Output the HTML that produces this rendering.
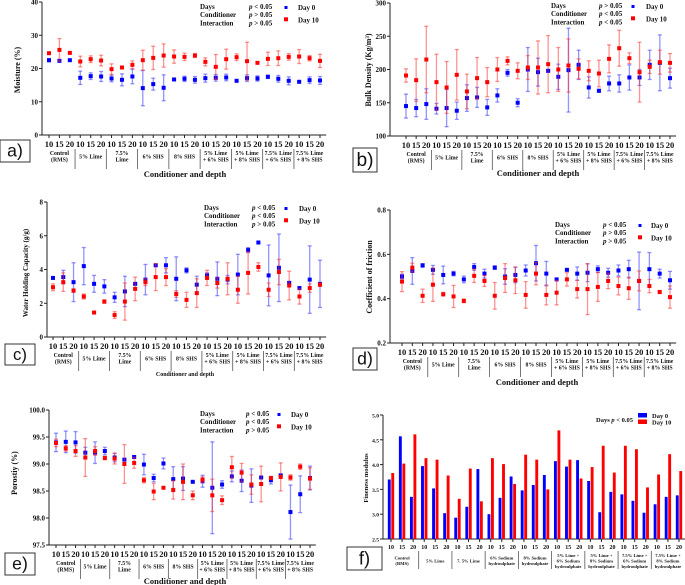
<!DOCTYPE html>
<html><head><meta charset="utf-8"><style>
body{margin:0;background:#fff}
svg{display:block;font-family:"Liberation Serif",serif;font-weight:bold}
</style></head><body>
<svg id="fig" width="685" height="585" viewBox="0 0 685 585" xmlns="http://www.w3.org/2000/svg"></svg>
<script>
const depths=["10","15","20"];
const groupsA=[["Control","(RMS)"],["5% Lime"],["7.5%","Lime"],["6% SHS"],["8% SHS"],["5% Lime","+ 6% SHS"],["5% Lime","+ 8% SHS"],["7.5% Lime","+ 6% SHS"],["7.5% Lime","+ 8% SHS"]];
const groupsF=[["Control","(RMS)"],["5% Lime"],["7. 5% Lime"],["6% Sodium","hydroulphate"],["8% Sodium","hydroulphate"],["5% Lime +","6% Sodium","hydroulphate"],["5% Lime +","8% Sodium","hydroulphate"],["7.5% Lime +","6% Sodium","hydroulphate"],["7.5% Lime +","8% Sodium","hydroulphate"]];
// a) moisture
const moistD0=[22.5,22.3,22.5,17.2,17.7,17.6,17,16.6,17.6,14.1,15.3,14.2,16.7,16.9,16.6,17.1,17.2,17.3,16.3,17.1,17,17.5,16.9,16.3,16,16.5,16.4];
const moistE0=[0.5,0.3,0.3,2,1,1.5,1,1.8,2.2,5.3,1.8,3.9,0.3,0.8,1,1.2,1,1,0.3,1,0.8,0.5,1,1.2,0.2,1,1.2];
const moistD10=[24.6,25.6,24.7,22.1,22.8,22.4,19.8,20.3,21.1,22.5,23.2,23.9,23.6,23.5,23.9,22,20.5,22.8,23.4,22.2,21.7,22.9,23.1,23.5,23.6,23.1,22.3];
const moistE10=[0.3,3.4,0.3,1.6,1,1.6,1.6,0.3,1.2,3,3.5,3.5,2,1.1,0.6,1.2,3.7,3,1,5.7,0.3,2,2.2,1,2.1,0.8,2];
const moistTicks=[0,10,20,30,40];
// b) bulk density
const bdD0=[145,142,148,141,142,138,157,158,143,161,195,150,200,196,198,189,199,207,173,168,179,179,188,188,207,210,187];
const bdE0=[18,13,23,8,28,13,20,15,12,10,5,6,33,21,2,19,63,22,16,2,11,13,19,12,22,42,15];
const bdD10=[191,184,215,181,173,192,167,187,181,200,213,198,203,203,208,200,206,201,198,194,216,232,217,196,204,211,210];
const bdE10=[10,32,50,42,39,38,26,31,22,18,6,12,18,40,43,33,40,15,15,20,21,27,8,45,10,18,14];
const bdTicks=[100,150,200,250,300];
// c) water holding capacity
const whcD0=[3.5,3.55,3.25,4.2,3.15,3.0,2.35,2.7,3.15,3.4,4.25,4.25,3.45,3.95,3.1,3.65,3.45,3.4,3.7,5.15,5.6,3.65,4.1,3.2,2.9,3.4,3.15];
const whcE0=[0.05,0.4,1.15,1.1,0.5,0.4,0.3,0.9,0.05,0.9,0.05,0.45,1.3,0.15,0.5,0.15,1,0.25,1.2,0.15,0.05,1.8,2,0.1,0.05,2,1.4];
const whcD10=[2.95,3.25,2.75,2.4,1.45,2.1,1.3,2.1,2.85,3.25,3.55,3.55,2.55,2.2,2.6,3.5,3.2,3.45,2.8,3.8,4.15,2.8,3.85,3.05,2.4,2.9,3.1];
const whcE10=[0.2,0.55,0.1,0.15,0.05,0.1,0.2,1.1,0.7,0.2,0.8,0.5,0.2,0.45,0.85,0.45,0.3,0.95,0.8,1.25,0.25,0.4,0.75,0.85,0.45,0.25,0.1];
const whcTicks=[0,2,4,6,8];
// d) coefficient of friction
const cofD0=[0.50,0.525,0.55,0.53,0.507,0.513,0.487,0.543,0.513,0.54,0.50,0.507,0.527,0.56,0.513,0.487,0.53,0.513,0.517,0.533,0.517,0.527,0.533,0.48,0.533,0.513,0.483];
const cofE0=[0.01,0.06,0.008,0.02,0.04,0.01,0.015,0.015,0.02,0.008,0.035,0.035,0.025,0.08,0.055,0.003,0.003,0.03,0.04,0.015,0.02,0.025,0.04,0.13,0.075,0.02,0.04];
const cofD10=[0.477,0.54,0.413,0.463,0.42,0.41,0.39,0.503,0.48,0.413,0.493,0.483,0.417,0.513,0.417,0.427,0.487,0.443,0.443,0.453,0.48,0.457,0.447,0.48,0.457,0.43,0.407];
const cofE10=[0.045,0.02,0.03,0.075,0.008,0.05,0.008,0.03,0.025,0.06,0.065,0.06,0.06,0.05,0.045,0.055,0.03,0.04,0.115,0.065,0.035,0.04,0.05,0.045,0.03,0.007,0.05];
const cofTicks=[0.2,0.4,0.6,0.8];
// e) porosity
const porD0=[99.4,99.41,99.4,99.21,99.21,99.24,99.12,99.08,99.13,98.99,98.74,99.01,98.72,98.73,98.67,98.68,98.56,98.62,98.77,98.69,98.6,98.75,98.7,98.79,98.11,98.44,98.74];
const porE0=[0.17,0.2,0.2,0.1,0.2,0.07,0.08,0.01,0.02,0.19,0.07,0.1,0.23,0.22,0.01,0.11,0.85,0.07,0.1,0.2,0.31,0.01,0.07,0.01,0.5,0.34,0.22];
const porD10=[99.39,99.29,99.24,99.12,99.24,99.11,99.1,99.0,99.02,98.7,98.49,98.56,98.52,98.67,98.42,98.71,98.42,98.33,98.94,98.84,98.62,98.63,98.74,98.76,98.75,98.95,98.73];
const porE10=[0.07,0.05,0.1,0.35,0.08,0.03,0.1,0.36,0.1,0.05,0.15,0.02,0.17,0.33,0.08,0.05,0.3,0.08,0.2,0.17,0.18,0.33,0.02,0.26,0.05,0.05,0.2];
const porTicks=[97.5,98.0,98.5,99.0,99.5,100.0];
// f) fineness modulus
const fmD0=[3.7,4.57,3.35,3.97,3.52,3.02,2.93,3.15,3.91,3.0,3.33,3.76,3.48,3.59,3.79,4.07,3.96,4.09,3.67,3.04,3.45,3.4,3.27,3.03,3.2,3.35,3.38];
const fmD10=[3.83,4.02,4.61,4.13,4.1,3.78,3.31,3.92,3.26,4.13,4.01,3.61,4.2,4.1,3.5,4.69,4.1,3.72,3.95,4.38,3.84,4.38,4.31,3.54,3.8,4.21,3.87];
const fmTicks=[2.5,3.0,3.5,4.0,4.5,5.0];

const svg=document.getElementById('fig');
const NS="http://www.w3.org/2000/svg";
function mk(tag,attrs,parent){const e=document.createElementNS(NS,tag);for(const k in attrs)e.setAttribute(k,attrs[k]);(parent||svg).appendChild(e);return e;}
function txt(x,y,s,size,anchor,parent,extra){const t=mk('text',Object.assign({x:x,y:y,'font-size':size,'text-anchor':anchor||'start',fill:'#111'},extra||{}),parent);t.textContent=s;return t;}

function panel(c){
  const g=mk('g',{});
  
  
  const [v0,v1]=c.range;
  const ys=v=>c.yBot+(v-v0)/(v1-v0)*(c.yTop-c.yBot);
  const n=27, step=(c.xLast-c.xFirst)/(n-1);
  const xs=i=>c.xFirst+i*step;
  const ya=mk('line',{x1:c.ax,y1:c.yTop,x2:c.ax,y2:c.yBot,stroke:'#222','stroke-width':1},g);
  
  const xa=mk('line',{x1:c.ax,y1:c.yBot,x2:c.xLast+step*0.6,y2:c.yBot,stroke:'#222','stroke-width':1},g);
  
  c.ticks.forEach(v=>{
    mk('line',{x1:c.ax-3,y1:ys(v),x2:c.ax,y2:ys(v),stroke:'#222'},g);
    const t=txt(c.ax-4,ys(v)+2.5,c.fmt?v.toFixed(c.fmt):String(v),c.tickSize||7,'end',g);
    
  });
  for(let i=0;i<n;i++){
    mk('line',{x1:xs(i),y1:c.yBot,x2:xs(i),y2:c.yBot+3,stroke:'#222'},g);
    const t=txt(xs(i),c.yBot+c.dOff,depths[i%3],c.dSize||8.5,'middle',g,{'font-weight':'bold'});
    
  }
  const groups=c.groups;
  for(let k=0;k<9;k++){
    if(k<8){const sx=(xs(k*3+2)+xs(k*3+3))/2;mk('line',{x1:sx,y1:c.yBot+c.dOff+2,x2:sx,y2:c.yBot+c.dOff+c.sepLen,stroke:'#555','stroke-width':0.8},g);}
    const cx=xs(k*3+1), lines=groups[k];
    const lh=c.gSize+0.8;
    const base=c.yBot+c.dOff+c.gOff+(c.gLines-lines.length)*lh/2;
    lines.forEach((s,j)=>{const t=txt(cx,base+j*lh,s,c.gSize,'middle',g);});
  }
  if(c.xtY<585){
    const xt=txt(c.xtX,c.xtY,'Conditioner and  depth',c.xtSize||8.5,'middle',g);
    
  }
  const yt=txt(0,0,c.ytitle,c.ytSize||8,'middle',g,{transform:`translate(${c.ytX},${c.ytY}) rotate(-90)`});
  
  const bx=mk('rect',{x:c.box[0],y:c.box[1],width:c.box[2],height:c.box[3],fill:'#fff',stroke:'#333','stroke-width':1},g);
  
  const bl=txt(c.box[0]+c.box[2]/2,c.box[1]+c.box[3]*0.75,c.id+')',c.box[3]*0.8,'middle',g,{'font-family':'Liberation Sans, sans-serif','font-weight':'normal'});
  
  if(c.bars){
    const bw=step*0.26;
    for(let i=0;i<n;i++){
      const r0=mk('rect',{x:xs(i)-bw-0.3,y:ys(c.d0[i]),width:bw,height:c.yBot-ys(c.d0[i]),fill:'#0000ff'},g);
      
      const r1=mk('rect',{x:xs(i)+0.3,y:ys(c.d10[i]),width:bw,height:c.yBot-ys(c.d10[i]),fill:'#ff0000'},g);
      
    }
  } else {
    const series=[[c.d0,c.e0,'#0000ff','rgba(60,60,255,0.55)','day0'],[c.d10,c.e10,'#ff0000','rgba(255,40,40,0.5)','day10']];
    series.forEach(([d,e,col,ecol,nm])=>{
      for(let i=0;i<n;i++){
        const x=xs(i),yh=ys(d[i]+e[i]),yl=ys(d[i]-e[i]);
        const eb=mk('g',{stroke:ecol,'stroke-width':1.3},g);
        
        mk('line',{x1:x,y1:yh,x2:x,y2:yl},eb);
        mk('line',{x1:x-2,y1:yh,x2:x+2,y2:yh},eb);
        mk('line',{x1:x-2,y1:yl,x2:x+2,y2:yl},eb);
        const m=mk('rect',{x:x-2,y:ys(d[i])-2,width:4,height:4,fill:col},g);
        
      }
    });
  }
  const L=c.leg, lg=mk('g',{},g);
  
  const fs=L.size||7, lh=L.lh||8.2;
  if(c.bars){
    txt(L.x,L.y,'Days ',fs,'start',lg).innerHTML='Days <tspan font-style="italic">p</tspan> &lt; 0.05';
    mk('rect',{x:L.mx,y:L.y-9,width:9,height:4.5,fill:'#0000ff'},lg);
    mk('rect',{x:L.mx,y:L.y-2.5,width:9,height:4.5,fill:'#ff0000'},lg);
    txt(L.dx,L.y-4,'Day 0',fs,'start',lg);
    txt(L.dx,L.y+2.5,'Day 10',fs,'start',lg);
  } else {
    const names=['Days','Conditioner','Interaction'];
    names.forEach((s,j)=>{
      txt(L.x,L.y+j*lh,s,fs,'start',lg);
      const t=txt(L.px,L.y+j*lh,'',fs,'start',lg);
      t.innerHTML='<tspan font-style="italic">p</tspan> '+c.ps[j]+' 0.05';
    });
    mk('rect',{x:L.mx-1.5,y:L.y+1-4,width:3,height:3,fill:'#0000ff'},lg);
    mk('rect',{x:L.mx-2,y:L.y+lh*1.5-4,width:4,height:4,fill:'#ff0000'},lg);
    txt(L.dx,L.y+1,'Day 0',fs,'start',lg);
    txt(L.dx,L.y+1+lh*1.5,'Day 10',fs,'start',lg);
  }
}

panel({id:'a',range:[0,40],ticks:moistTicks,ax:42,yTop:2,yBot:135,xFirst:49,xLast:320,dOff:12,dSize:8.5,gOff:8,gSize:5.8,gLines:2,sepLen:22,groups:groupsA,
 xtX:185,xtY:177,ytitle:'Moisture (%)',ytX:20,ytY:70,box:[0,140,30,22],d0:moistD0,e0:moistE0,d10:moistD10,e10:moistE10,ps:['<','>','>'],
 leg:{x:200,y:9,px:249,mx:286,dx:298}});
panel({id:'b',range:[100,300],ticks:bdTicks,ax:390,yTop:3,yBot:136,xFirst:406,xLast:670,dOff:12,dSize:8.5,gOff:8,gSize:5.8,gLines:2,sepLen:22,groups:groupsA,
 xtX:538,xtY:176,ytitle:'Bulk Density (Kg/m³)',ytX:371,ytY:70,box:[353,148,24,24],d0:bdD0,e0:bdE0,d10:bdD10,e10:bdE10,ps:['>','<','<'],
 leg:{x:551,y:8,px:599,mx:633,dx:646}});
panel({id:'c',range:[0,8],ticks:whcTicks,ax:47,yTop:202,yBot:337,xFirst:53,xLast:320,dOff:12,dSize:8.5,gOff:8,gSize:5.8,gLines:2,sepLen:22,groups:groupsA,
 xtX:185,xtY:376,xtSize:6,ytitle:'Water Holding Capacity (g/g)',ytX:28,ytY:273,ytSize:7,box:[5,344,30,21],d0:whcD0,e0:whcE0,d10:whcD10,e10:whcE10,ps:['<','<','>'],
 leg:{x:204,y:210,px:252,mx:286,dx:299}});
panel({id:'d',range:[0.2,0.8],ticks:cofTicks,fmt:1,ax:390,yTop:210,yBot:343,xFirst:402,xLast:670,dOff:12,dSize:8.5,gOff:8,gSize:5.8,gLines:2,sepLen:22,groups:groupsA,
 xtX:537,xtY:385,ytitle:'Coefficient of friction',ytX:372,ytY:277,box:[353,348,24,22],d0:cofD0,e0:cofE0,d10:cofD10,e10:cofE10,ps:['<','>','>'],
 leg:{x:555,y:227,px:603,mx:640,dx:651}});
panel({id:'e',range:[97.5,100],ticks:porTicks,fmt:1,ax:49,yTop:410,yBot:545,xFirst:56,xLast:310,dOff:12,dSize:8.5,gOff:8,gSize:5.8,gLines:2,sepLen:22,groups:groupsA,
 xtX:185,xtY:584,ytitle:'Porostiy (%)',ytX:17,ytY:473,box:[5,553,30,22],d0:porD0,e0:porE0,d10:porD10,e10:porE10,ps:['<','<','>'],
 leg:{x:200,y:416,px:246,mx:279,dx:291}});
panel({id:'f',bars:true,range:[2.5,5.0],ticks:fmTicks,fmt:1,tickSize:5.5,ax:383,yTop:415,yBot:539,xFirst:391,xLast:679,dOff:10,dSize:6,gOff:8,gSize:4.6,gLines:3,sepLen:20,groups:groupsF,
 xtX:530,xtY:600,ytitle:'Fineness modulus',ytX:368,ytY:478,ytSize:6.5,box:[347,547,35,23],d0:fmD0,d10:fmD10,
 leg:{x:596,y:422,mx:638,dx:652,size:6.5}});
</script>
</body></html>
